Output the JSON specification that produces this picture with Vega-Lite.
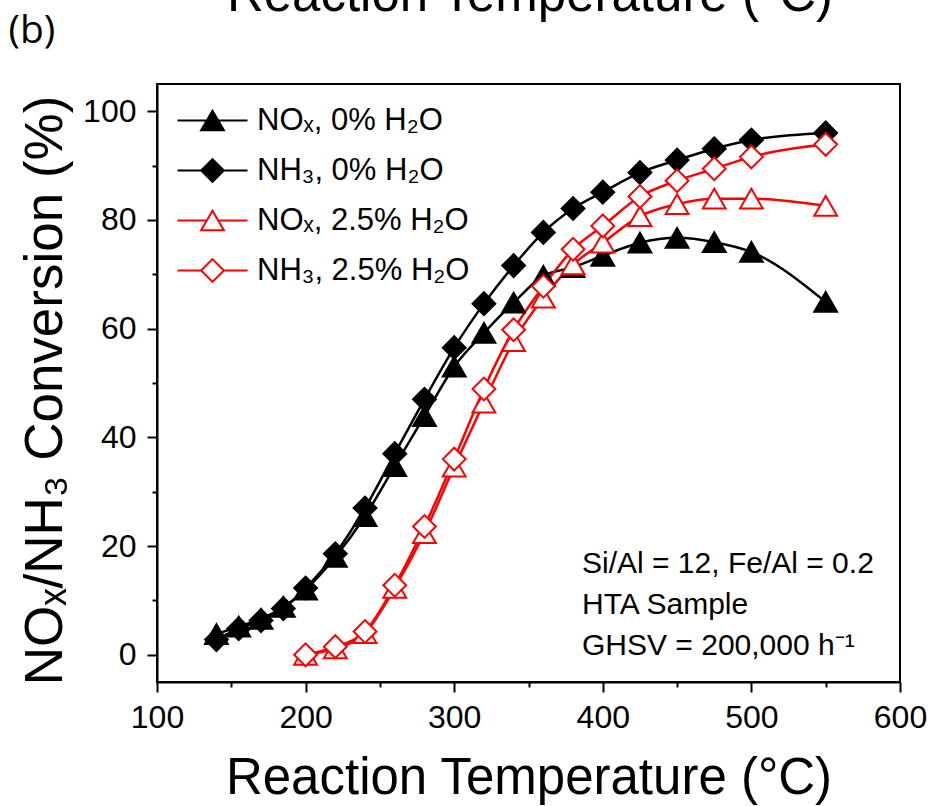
{
  "$schema": "https://vega.github.io/schema/vega-lite/v6.json",
  "width": 743,
  "height": 598,
  "autosize": {"type": "none"},
  "padding": {"left": 157, "top": 84, "right": 35, "bottom": 124},
  "background": "white",
  "config": {
    "view": {"stroke": "black", "strokeWidth": 2},
    "axis": {
      "grid": false,
      "domainColor": "black", "domainWidth": 2,
      "tickColor": "black", "tickWidth": 2, "tickSize": 10,
      "labelFont": "Liberation Sans", "labelFontSize": 32, "labelColor": "black",
      "titleFont": "Liberation Sans", "titleFontWeight": "normal", "titleColor": "black",
      "labelOverlap": false, "labelFlush": false
    },
    "legend": {
      "orient": "none", "legendX": 40, "legendY": 21, "padding": 0,
      "labelFont": "Liberation Sans", "labelFontSize": 31, "labelColor": "black", "labelLimit": 0,
      "symbolSize": 520, "symbolStrokeWidth": 2, "rowPadding": 18, "labelOffset": 29
    }
  },
  "data": {"values": [
    {"s": "NOₓ, 0% H₂O", "T": 140, "v": 3.8},
    {"s": "NOₓ, 0% H₂O", "T": 155, "v": 5.2},
    {"s": "NOₓ, 0% H₂O", "T": 170, "v": 6.6},
    {"s": "NOₓ, 0% H₂O", "T": 185, "v": 8.8},
    {"s": "NOₓ, 0% H₂O", "T": 200, "v": 12},
    {"s": "NOₓ, 0% H₂O", "T": 220, "v": 18},
    {"s": "NOₓ, 0% H₂O", "T": 240, "v": 25.5},
    {"s": "NOₓ, 0% H₂O", "T": 260, "v": 34.7},
    {"s": "NOₓ, 0% H₂O", "T": 280, "v": 43.9},
    {"s": "NOₓ, 0% H₂O", "T": 300, "v": 53},
    {"s": "NOₓ, 0% H₂O", "T": 320, "v": 59.2},
    {"s": "NOₓ, 0% H₂O", "T": 340, "v": 64.8},
    {"s": "NOₓ, 0% H₂O", "T": 360, "v": 69.7},
    {"s": "NOₓ, 0% H₂O", "T": 380, "v": 71.3},
    {"s": "NOₓ, 0% H₂O", "T": 400, "v": 73.4},
    {"s": "NOₓ, 0% H₂O", "T": 425, "v": 75.8},
    {"s": "NOₓ, 0% H₂O", "T": 450, "v": 76.7},
    {"s": "NOₓ, 0% H₂O", "T": 475, "v": 75.9},
    {"s": "NOₓ, 0% H₂O", "T": 500, "v": 74.1},
    {"s": "NOₓ, 0% H₂O", "T": 550, "v": 64.9},
    {"s": "NH₃, 0% H₂O", "T": 140, "v": 2.8},
    {"s": "NH₃, 0% H₂O", "T": 155, "v": 4.8},
    {"s": "NH₃, 0% H₂O", "T": 170, "v": 6.3},
    {"s": "NH₃, 0% H₂O", "T": 185, "v": 8.5},
    {"s": "NH₃, 0% H₂O", "T": 200, "v": 12.3},
    {"s": "NH₃, 0% H₂O", "T": 220, "v": 18.6},
    {"s": "NH₃, 0% H₂O", "T": 240, "v": 27},
    {"s": "NH₃, 0% H₂O", "T": 260, "v": 37},
    {"s": "NH₃, 0% H₂O", "T": 280, "v": 47},
    {"s": "NH₃, 0% H₂O", "T": 300, "v": 56.5},
    {"s": "NH₃, 0% H₂O", "T": 320, "v": 64.6},
    {"s": "NH₃, 0% H₂O", "T": 340, "v": 71.6},
    {"s": "NH₃, 0% H₂O", "T": 360, "v": 77.7},
    {"s": "NH₃, 0% H₂O", "T": 380, "v": 82.1},
    {"s": "NH₃, 0% H₂O", "T": 400, "v": 85.1},
    {"s": "NH₃, 0% H₂O", "T": 425, "v": 88.7},
    {"s": "NH₃, 0% H₂O", "T": 450, "v": 91},
    {"s": "NH₃, 0% H₂O", "T": 475, "v": 93.1},
    {"s": "NH₃, 0% H₂O", "T": 500, "v": 94.7},
    {"s": "NH₃, 0% H₂O", "T": 550, "v": 96},
    {"s": "NOₓ, 2.5% H₂O", "T": 200, "v": 0},
    {"s": "NOₓ, 2.5% H₂O", "T": 220, "v": 1.2},
    {"s": "NOₓ, 2.5% H₂O", "T": 240, "v": 4},
    {"s": "NOₓ, 2.5% H₂O", "T": 260, "v": 12.3},
    {"s": "NOₓ, 2.5% H₂O", "T": 280, "v": 22.4},
    {"s": "NOₓ, 2.5% H₂O", "T": 300, "v": 34.6},
    {"s": "NOₓ, 2.5% H₂O", "T": 320, "v": 46.4},
    {"s": "NOₓ, 2.5% H₂O", "T": 340, "v": 57.7},
    {"s": "NOₓ, 2.5% H₂O", "T": 360, "v": 65.7},
    {"s": "NOₓ, 2.5% H₂O", "T": 380, "v": 71.8},
    {"s": "NOₓ, 2.5% H₂O", "T": 400, "v": 75.8},
    {"s": "NOₓ, 2.5% H₂O", "T": 425, "v": 80.7},
    {"s": "NOₓ, 2.5% H₂O", "T": 450, "v": 82.9},
    {"s": "NOₓ, 2.5% H₂O", "T": 475, "v": 83.9},
    {"s": "NOₓ, 2.5% H₂O", "T": 500, "v": 83.9},
    {"s": "NOₓ, 2.5% H₂O", "T": 550, "v": 82.6},
    {"s": "NH₃, 2.5% H₂O", "T": 200, "v": 0},
    {"s": "NH₃, 2.5% H₂O", "T": 220, "v": 1.5},
    {"s": "NH₃, 2.5% H₂O", "T": 240, "v": 4.3},
    {"s": "NH₃, 2.5% H₂O", "T": 260, "v": 12.8},
    {"s": "NH₃, 2.5% H₂O", "T": 280, "v": 23.6},
    {"s": "NH₃, 2.5% H₂O", "T": 300, "v": 36},
    {"s": "NH₃, 2.5% H₂O", "T": 320, "v": 48.9},
    {"s": "NH₃, 2.5% H₂O", "T": 340, "v": 59.8},
    {"s": "NH₃, 2.5% H₂O", "T": 360, "v": 67.8},
    {"s": "NH₃, 2.5% H₂O", "T": 380, "v": 74.6},
    {"s": "NH₃, 2.5% H₂O", "T": 400, "v": 78.9},
    {"s": "NH₃, 2.5% H₂O", "T": 425, "v": 84.3},
    {"s": "NH₃, 2.5% H₂O", "T": 450, "v": 87.2},
    {"s": "NH₃, 2.5% H₂O", "T": 475, "v": 89.4},
    {"s": "NH₃, 2.5% H₂O", "T": 500, "v": 91.6},
    {"s": "NH₃, 2.5% H₂O", "T": 550, "v": 93.9}
  ]},
  "layer": [
    {
      "mark": {"type": "line", "strokeWidth": 2.5, "interpolate": "monotone"},
      "encoding": {
        "x": {
          "field": "T", "type": "quantitative",
          "scale": {"domain": [100, 600], "nice": false, "zero": false},
          "axis": {
            "title": "Reaction Temperature (°C)", "titleFontSize": 51, "titlePadding": 20,
            "values": [100, 150, 200, 250, 300, 350, 400, 450, 500, 550, 600],
            "labelExpr": "datum.value % 100 === 0 ? datum.label : ''",
            "labelPadding": 10,
            "encoding": {"ticks": {"y2": {"value": {"expr": "datum.value % 100 === 0 ? 10 : 5"}}}}
          }
        },
        "y": {
          "field": "v", "type": "quantitative",
          "scale": {"domain": [-5, 105], "nice": false, "zero": false},
          "axis": {
            "title": "NOₓ/NH₃ Conversion (%)", "titleFontSize": 53, "titlePadding": 10, "titleY": 306,
            "values": [0, 10, 20, 30, 40, 50, 60, 70, 80, 90, 100],
            "labelExpr": "datum.value % 20 === 0 ? datum.label : ''",
            "labelPadding": 11,
            "encoding": {"ticks": {"x2": {"value": {"expr": "datum.value % 20 === 0 ? -10 : -5"}}}}
          }
        },
        "stroke": {
          "field": "s", "type": "nominal",
          "scale": {"domain": ["NOₓ, 0% H₂O", "NH₃, 0% H₂O", "NOₓ, 2.5% H₂O", "NH₃, 2.5% H₂O"], "range": ["black", "black", "#ff0000", "#ff0000"]},
          "legend": {
            "title": null,
            "encoding": {"symbols": {"shape": {"value": {"expr": "indexof(datum.value, 'NO') === 0 ? 'M-3.07,0H-0.5M0.5,0H3.07M0,-0.866L1,0.866L-1,0.866Z' : 'M-3.07,0H-1M1,0H3.07M0,-1L1,0L0,1L-1,0Z'"}}}}
          }
        }
      }
    },
    {
      "transform": [{"filter": "indexof(datum.s, 'NO') === 0"}],
      "mark": {"type": "point", "shape": "triangle-up", "filled": true, "size": 520, "strokeWidth": 2, "opacity": 1},
      "encoding": {
        "x": {"field": "T", "type": "quantitative"},
        "y": {"field": "v", "type": "quantitative"},
        "stroke": {"field": "s", "type": "nominal"},
        "fill": {
          "field": "s", "type": "nominal",
          "scale": {"domain": ["NOₓ, 0% H₂O", "NH₃, 0% H₂O", "NOₓ, 2.5% H₂O", "NH₃, 2.5% H₂O"], "range": ["black", "black", "white", "white"]},
          "legend": {
            "title": null,
            "encoding": {"symbols": {"shape": {"value": {"expr": "indexof(datum.value, 'NO') === 0 ? 'M-3.07,0H-0.5M0.5,0H3.07M0,-0.866L1,0.866L-1,0.866Z' : 'M-3.07,0H-1M1,0H3.07M0,-1L1,0L0,1L-1,0Z'"}}}}
          }
        }
      }
    },
    {
      "transform": [{"filter": "indexof(datum.s, 'NH') === 0"}],
      "mark": {"type": "point", "shape": "diamond", "filled": true, "size": 520, "strokeWidth": 2, "opacity": 1},
      "encoding": {
        "x": {"field": "T", "type": "quantitative"},
        "y": {"field": "v", "type": "quantitative"},
        "stroke": {"field": "s", "type": "nominal"},
        "fill": {"field": "s", "type": "nominal"}
      }
    },
    {
      "data": {"values": [{"t": "Si/Al = 12, Fe/Al = 0.2\nHTA Sample\nGHSV = 200,000 h⁻¹"}]},
      "mark": {"type": "text", "font": "Liberation Sans", "fontSize": 30, "align": "left", "baseline": "alphabetic", "lineHeight": 41, "lineBreak": "\n", "color": "black"},
      "encoding": {"x": {"datum": 386}, "y": {"datum": 15.05}, "text": {"field": "t"}}
    },
    {
      "data": {"values": [{"t": "Reaction Temperature (°C)"}]},
      "mark": {"type": "text", "font": "Liberation Sans", "fontSize": 51, "align": "center", "baseline": "alphabetic", "color": "black"},
      "encoding": {"x": {"datum": 351}, "y": {"datum": 118.5}, "text": {"field": "t"}}
    },
    {
      "data": {"values": [{"t": "(b)"}]},
      "mark": {"type": "text", "font": "Open Sans", "fontSize": 39, "align": "left", "baseline": "alphabetic", "color": "black"},
      "encoding": {"x": {"datum": 0}, "y": {"datum": 112.5}, "text": {"field": "t"}}
    }
  ]
}
